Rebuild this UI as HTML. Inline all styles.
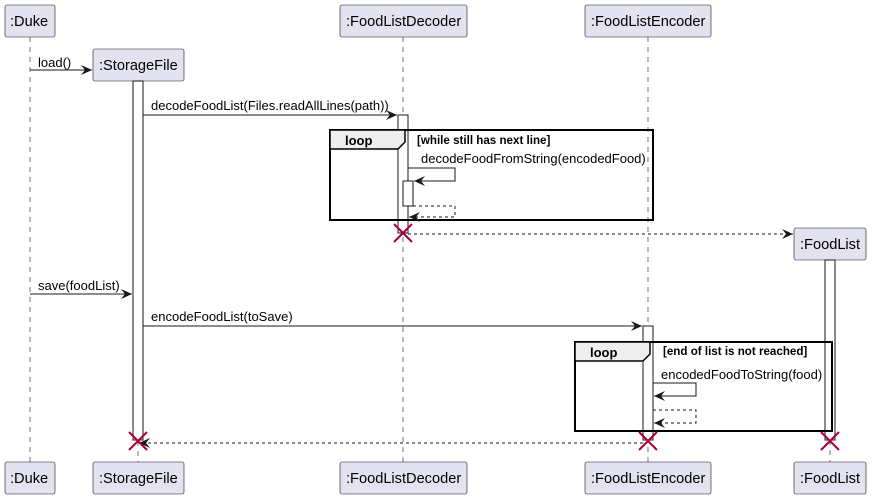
<!DOCTYPE html>
<html><head><style>body{margin:0;background:#fff}svg{display:block}text{font-family:"Liberation Sans",sans-serif;font-size:13px;fill:#000}</style></head><body>
<svg width="872" height="499" xmlns="http://www.w3.org/2000/svg">
<defs><marker id="a" markerWidth="12" markerHeight="10" refX="11" refY="5" orient="auto" markerUnits="userSpaceOnUse"><path d="M0,0 L11,5 L0,10 L4,5 Z" fill="#181818"/></marker></defs>
<g stroke="#181818" stroke-dasharray="5,5" stroke-width="0.6">
<line x1="30" y1="37" x2="30" y2="462"/><line x1="138" y1="81" x2="138" y2="462"/><line x1="403" y1="37" x2="403" y2="462"/><line x1="648" y1="37" x2="648" y2="462"/><line x1="830" y1="260" x2="830" y2="462"/></g>
<g fill="#E2E2F0" stroke="#181818" stroke-width="0.6">
<rect x="5" y="5" width="50" height="32" rx="2"/><rect x="93" y="49" width="91" height="32" rx="2"/><rect x="340" y="5" width="127" height="32" rx="2"/><rect x="585" y="5" width="126" height="32" rx="2"/><rect x="794" y="228" width="72" height="32" rx="2"/>
<rect x="5" y="462" width="50" height="32" rx="2"/><rect x="93" y="462" width="91" height="32" rx="2"/><rect x="340" y="462" width="127" height="32" rx="2"/><rect x="585" y="462" width="126" height="32" rx="2"/><rect x="794" y="462" width="72" height="32" rx="2"/></g>
<g style="font-size:14.6px">
<text x="10" y="26" style="font-size:14.6px">:Duke</text><text x="99" y="70" style="font-size:14.6px">:StorageFile</text><text x="346" y="26" style="font-size:14.6px">:FoodListDecoder</text><text x="591" y="26" style="font-size:14.6px">:FoodListEncoder</text><text x="800" y="249" style="font-size:14.6px">:FoodList</text>
<text x="10" y="483" style="font-size:14.6px">:Duke</text><text x="99" y="483" style="font-size:14.6px">:StorageFile</text><text x="346" y="483" style="font-size:14.6px">:FoodListDecoder</text><text x="591" y="483" style="font-size:14.6px">:FoodListEncoder</text><text x="800" y="483" style="font-size:14.6px">:FoodList</text></g>
<g fill="#fff" stroke="#181818" stroke-width="1">
<rect x="133" y="81" width="10" height="359"/><rect x="398" y="115" width="10" height="118"/><rect x="643" y="326" width="10" height="114"/><rect x="825" y="260" width="10" height="180"/><rect x="403" y="181" width="10" height="25"/></g>
<g fill="none" stroke="#000" stroke-width="2">
<rect x="330" y="130" width="323" height="90"/><rect x="575" y="342" width="257" height="89"/></g>
<path d="M330,130 H405 V142 L398,149 H330 Z" fill="#EEE" stroke="#000" stroke-width="1.5"/>
<path d="M575,342 H650 V354 L643,361 H575 Z" fill="#EEE" stroke="#000" stroke-width="1.5"/>
<text x="345" y="145" style="font-weight:bold;font-size:13px">loop</text>
<text x="590" y="357" style="font-weight:bold;font-size:13px">loop</text>
<text x="417" y="144" style="font-weight:bold;font-size:11.6px">[while still has next line]</text>
<text x="663" y="355" style="font-weight:bold;font-size:11.6px">[end of list is not reached]</text>
<g stroke="#181818" stroke-width="1" fill="none" marker-end="url(#a)">
<line x1="30" y1="70" x2="92" y2="70"/>
<line x1="143" y1="115" x2="397" y2="115"/>
<polyline points="408,168 455,168 455,181 414,181"/>
<polyline points="413,206 455,206 455,217 409,217" stroke-dasharray="3,3"/>
<line x1="408" y1="234" x2="793" y2="234" stroke-dasharray="3,3"/>
<line x1="30" y1="294" x2="132" y2="294"/>
<line x1="143" y1="326" x2="642" y2="326"/>
<polyline points="653,383 696,383 696,396 654,396"/>
<polyline points="653,410 696,410 696,423 654,423" stroke-dasharray="3,3"/>
<line x1="643" y1="443" x2="139" y2="443" stroke-dasharray="3,3"/>
</g>
<text x="38" y="67">load()</text>
<text x="151" y="110">decodeFoodList(Files.readAllLines(path))</text>
<text x="421" y="163">decodeFoodFromString(encodedFood)</text>
<text x="38" y="290">save(foodList)</text>
<text x="151" y="321">encodeFoodList(toSave)</text>
<text x="661" y="379">encodedFoodToString(food)</text>
<g stroke="#A80036" stroke-width="2">
<path d="M394,224 L412,242 M412,224 L394,242"/><path d="M129,432 L147,450 M147,432 L129,450"/><path d="M639,432 L657,450 M657,432 L639,450"/><path d="M821,432 L839,450 M839,432 L821,450"/></g>
</svg></body></html>
